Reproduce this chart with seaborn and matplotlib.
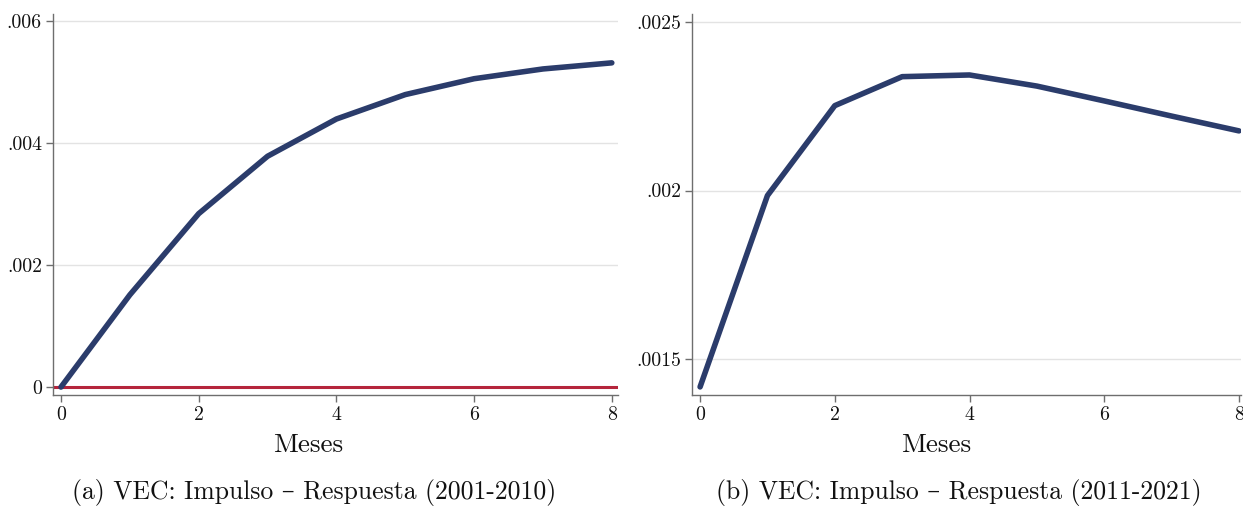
import matplotlib
matplotlib.use("Agg")
import matplotlib.pyplot as plt
import seaborn as sns
import pandas as pd

meses = [0, 1, 2, 3, 4, 5, 6, 7, 8]
irf_2001_2010 = [0.0, 0.00151, 0.00284, 0.00378, 0.00439, 0.00479, 0.00505, 0.00521, 0.00531]
irf_2011_2021 = [0.001417, 0.001985, 0.002252, 0.002338, 0.002343, 0.00231, 0.002266, 0.002221, 0.002177]
xticks = [0, 2, 4, 6, 8]
yticks_a = [0, 0.002, 0.004, 0.006]
yticklabels_a = ["0", ".002", ".004", ".006"]
yticks_b = [0.0015, 0.002, 0.0025]
yticklabels_b = [".0015", ".002", ".0025"]
captions = ["(a) VEC: Impulso – Respuesta (2001-2010)", "(b) VEC: Impulso – Respuesta (2011-2021)"]
xlabel = "Meses"

sns.set_theme(style="white")
plt.rcParams["font.family"] = ["cmr10", "DejaVu Serif"]
plt.rcParams["axes.formatter.use_mathtext"] = True

navy = "#2B3C6B"
red = "#B5253C"

fig = plt.figure(figsize=(12.43, 5.07), dpi=100)
ax1 = fig.add_axes([53/1243, 1-395/507, 565/1243, 381/507])
ax2 = fig.add_axes([692/1243, 1-395/507, 549/1243, 381/507])

df_a = pd.DataFrame({"m": meses, "v": irf_2001_2010})
df_b = pd.DataFrame({"m": meses, "v": irf_2011_2021})

ax1.axhline(0, color=red, lw=2.2, zorder=2)
sns.lineplot(data=df_a, x="m", y="v", ax=ax1, color=navy, lw=4, zorder=3,
             solid_capstyle="round", solid_joinstyle="round")
sns.lineplot(data=df_b, x="m", y="v", ax=ax2, color=navy, lw=4, zorder=3,
             solid_capstyle="round", solid_joinstyle="round")

ax1.set_xlim(-0.116, 8.09)
ax1.set_ylim(-0.00013, 0.00611)
ax2.set_xlim(-0.12, 8.03)
ax2.set_ylim(0.001393, 0.002524)

label_x = [0.451, 0.4444]
cap_x = [0.462, 0.486]

for i, (ax, yt, ytl, cap) in enumerate([(ax1, yticks_a, yticklabels_a, captions[0]),
                                        (ax2, yticks_b, yticklabels_b, captions[1])]):
    ax.set_xticks(xticks)
    ax.set_xticklabels([str(t) for t in xticks], fontsize=14.3)
    ax.set_yticks(yt)
    ax.set_yticklabels(ytl, fontsize=14.3)
    ax.grid(axis="y", color="#E3E3E3", lw=1, zorder=0)
    ax.set_axisbelow(True)
    for s in ["top", "right"]:
        ax.spines[s].set_visible(False)
    for s in ["left", "bottom"]:
        ax.spines[s].set_color("#6E6E6E")
        ax.spines[s].set_linewidth(1.0)
    ax.tick_params(axis="both", which="major", direction="out", length=5,
                   width=1, color="#6E6E6E", pad=3, left=True, bottom=True,
                   labelcolor="#111111")
    ax.set_xlabel(xlabel, fontsize=19.5, color="#111111", va="center")
    ax.xaxis.set_label_coords(label_x[i], -0.131)
    ax.set_ylabel("")
    ax.text(cap_x[i], -0.257, cap, transform=ax.transAxes, ha="center", va="center",
            fontsize=18.5, color="#111111")

fig.savefig("out.png", dpi=100)
